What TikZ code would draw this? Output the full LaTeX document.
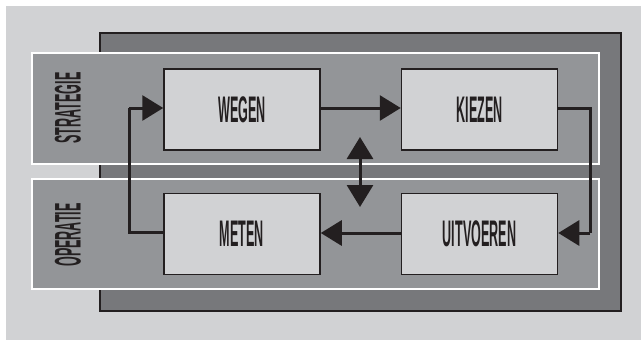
\documentclass[tikz,border=0pt]{standalone}
\usepackage{fontspec}
\newfontfamily\condfont[FakeStretch=0.34]{Liberation Sans}
\usetikzlibrary{arrows.meta}
\definecolor{bglight}{HTML}{D1D2D4}
\definecolor{darkbox}{HTML}{77787B}
\definecolor{band}{HTML}{939598}
\definecolor{ink}{HTML}{231F20}
\tikzset{
  stepbox/.style={draw=ink, line width=1.5pt, fill=bglight, minimum width=156pt, minimum height=81pt, inner sep=0pt, font=\condfont\bfseries\fontsize{37}{37}\selectfont, text=ink},
  bandbox/.style={draw=white, line width=1.3pt, fill=band},
  bandlabel/.style={rotate=90, font=\condfont\bfseries\fontsize{37}{37}\selectfont, text=ink},
  conn/.style={draw=ink, line width=3pt, -{Triangle[length=21pt,width=25pt]}},
  dconn/.style={draw=ink, line width=3pt, {Triangle[length=22pt,width=26pt]}-{Triangle[length=22pt,width=26pt]}}
}
\begin{document}
\begin{tikzpicture}[x=1pt,y=-1pt]
\useasboundingbox (0,0) rectangle (641,340);
\fill[white] (0,0) rectangle (641,340);
\fill[bglight] (6,6) rectangle (641,340);
\draw[ink, line width=1.8pt, fill=darkbox] (100,33) rectangle (621,311);
\draw[bandbox] (32,53) rectangle (599,164);
\draw[bandbox] (32,179) rectangle (599,289);
\node[bandlabel] (lstr) at (68,108) {STRATEGIE};
\node[bandlabel] (lop) at (68,235) {OPERATIE};
\node[stepbox] (wegen) at (242,109.5) {WEGEN};
\node[stepbox] (kiezen) at (479.5,109.5) {KIEZEN};
\node[stepbox] (meten) at (242,234) {METEN};
\node[stepbox] (uitv) at (479.5,234) {UITVOEREN};
\coordinate (k1) at (590,108);
\coordinate (k2) at (590,233);
\coordinate (m1) at (129,232);
\coordinate (m2) at (129,108);
\coordinate (d1) at (360,137);
\coordinate (d2) at (360,207);
\draw[conn] (wegen.east |- 0,108) -- (kiezen.west |- 0,108);
\draw[draw=ink, line width=3pt] (kiezen.east |- k1) -- (k1) -- (k2);
\draw[conn] (k2) -- (uitv.east |- k2);
\draw[conn] (uitv.west |- 0,233) -- (meten.east |- 0,233);
\draw[draw=ink, line width=3pt] (meten.west |- m1) -- (m1) -- (m2);
\draw[conn] (m2) -- (wegen.west |- m2);
\draw[dconn] (d1) -- (d2);
\end{tikzpicture}
\end{document}
